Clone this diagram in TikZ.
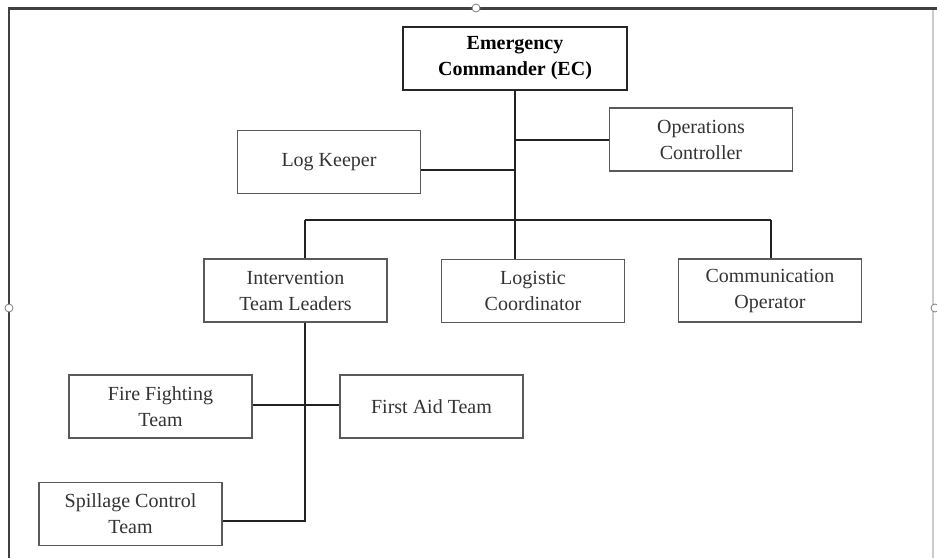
\documentclass[tikz,border=0pt]{standalone}
\usepackage{fontspec}
\setmainfont{Liberation Serif}
\usetikzlibrary{calc}

\definecolor{boxline}{HTML}{5A5A5A}
\definecolor{wire}{HTML}{222222}
\definecolor{txt}{HTML}{333333}

\tikzset{
  role/.style={draw=boxline, line width=1.6pt, fill=white, text=txt,
    minimum width=183pt, minimum height=63pt, inner sep=0pt, align=center,
    font=\fontsize{20}{26}\selectfont},
  link/.style={draw=wire, line width=2pt},
  handle/.style={circle, draw=gray, fill=white, line width=0.8pt, minimum size=8pt, inner sep=0pt}
}

\begin{document}
\begin{tikzpicture}[x=1pt,y=-1pt]
                \useasboundingbox (0,0) rectangle (937,558);
                \fill[white] (0,0) rectangle (937,558);
                % window frame
                \draw[line width=3pt, draw=black!75] (8,8) -- (937,8);
                \draw[line width=2.5pt, draw=black!75] (9,8) -- (9,558);
                \draw[line width=1.5pt, draw=black!20] (933,10) -- (933,558);
                \node[handle] (htop) at (476,8) {};
                \node[handle] (hleft) at (9,308) {};
                \node[handle] (hright) at (935,308) {};

                \node[role, minimum width=224pt, font=\fontsize{20}{26}\selectfont\bfseries, text=black, draw=black!85] (ec) at (515,58.5) {Emergency\\Commander (EC)};
                \node[role] (ops) at (701,139.5) {Operations\\Controller};
                \node[role] (log) at (329,162) {Log Keeper};
                \node[role] (itl) at (295.5,290.5) {Intervention\\Team Leaders};
                \node[role] (lc) at (533,291) {Logistic\\Coordinator};
                \node[role] (co) at (770,290.5) {Communication\\Operator};
                \node[role] (ff) at (160.5,406.5) {Fire Fighting\\Team};
                \node[role] (fa) at (431.5,406.5) {First Aid Team};
                \node[role] (sc) at (130.5,514) {Spillage Control\\Team};

                \coordinate (bus) at (515,220);
                \coordinate (busL) at (305,220);
                \coordinate (busR) at (771,220);
                \coordinate (spine) at (305,521);

                \draw[link] (ec.south) -- (bus);
                \draw[link] (ops.west) -- (ops.west -| bus);
                \draw[link] ([yshift=-8pt]log.east) -- ([yshift=-8pt]log.east -| bus);
                \draw[link] (busL) -- (busR);
                \draw[link] (busL) -- (busL |- itl.north);
                \draw[link] (bus) -- (bus |- lc.north);
                \draw[link] (busR) -- (busR |- co.north);
                \draw[link] (busL |- itl.south) -- (spine) -- (spine -| sc.east);
                \draw[link] ([yshift=1.5pt]ff.east) -- ([yshift=1.5pt]fa.west);
            \end{tikzpicture}
\end{document}
